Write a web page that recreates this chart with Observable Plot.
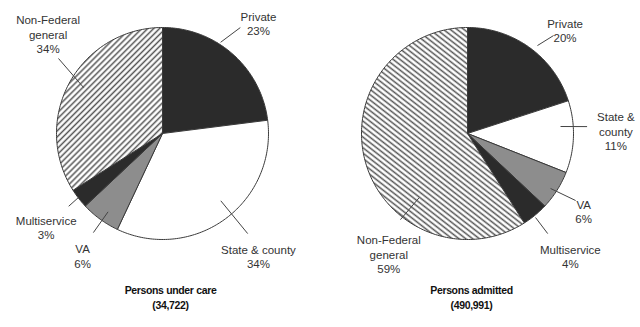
<!DOCTYPE html>
<html><head><meta charset="utf-8">
<script src="https://cdn.jsdelivr.net/npm/d3@7"></script>
<script src="https://cdn.jsdelivr.net/npm/@observablehq/plot@0.6"></script>
<style>body{margin:0;background:#fff}</style>
</head><body><div id="chart"></div>
<script>
// ---- data ----
const categories = ["Private", "State & county", "VA", "Multiservice", "Non-Federal general"];
const underCare = [23, 34, 6, 3, 34];
const admitted = [20, 11, 6, 4, 59];
const labelNamesLeft = ["Private", "State & county", "VA", "Multiservice", "Non-Federal\ngeneral"];
const labelNamesRight = ["Private", "State &\ncounty", "VA", "Multiservice", "Non-Federal\ngeneral"];
const titles = ["Persons under care", "Persons admitted"];
const totals = ["(34,722)", "(490,991)"];

// ---- layout / style ----
const W = 640, H = 327;
const sliceFills = ["#2b2b2b", "#ffffff", "#8d8d8d", "#2b2b2b"];
// leader: [angle1, r1, angle2, r2, textAngle, textR] in degrees / fractions of radius
const pies = [
  {cx: 162, cy: 133, r: 106, values: underCare, names: labelNamesLeft, hatch: "url(#hatchL)", titleDx: 8,
   leaders: [[32.5,1.02,36.3,1.24,41,1.38],[139.1,0.84,139.6,1.24,142,1.47],[214.8,0.9,214.9,1.14,213.1,1.38],[232.7,1.0,232.2,1.12,231.1,1.41],[300.2,0.86,305.8,1.21,311,1.43]]},
  {cx: 467, cy: 133, r: 106, values: admitted, names: labelNamesRight, hatch: "url(#hatchR)", titleDx: 4,
   leaders: [[38.5,1.06,41.3,1.23,43.4,1.34],[85.7,0.88,86.7,1.13,89,1.40],[123.5,0.94,121.8,1.2,123.9,1.32],[141,1.02,141.3,1.21,140,1.51],[217,0.76,217.9,1.03,213.1,1.36]]}
];

const rad = d => d * Math.PI / 180;
const polar = (p, a, rr) => [p.cx + rr * Math.sin(a), p.cy - rr * Math.cos(a)];

const slicePts = [], leaders = [], labels = [], titleRows = [];
pies.forEach((p, pi) => {
  const arcs = d3.pie().sort(null).startAngle(0).endAngle(2 * Math.PI)(p.values);
  arcs.forEach((a, i) => {
    const id = pi + "-" + i;
    const fill = i === 4 ? p.hatch : sliceFills[i];
    const pts = [[p.cx, p.cy]];
    const n = Math.max(2, Math.ceil((a.endAngle - a.startAngle) / rad(1)));
    for (let k = 0; k <= n; k++) pts.push(polar(p, a.startAngle + (a.endAngle - a.startAngle) * k / n, p.r));
    pts.push([p.cx, p.cy]);
    pts.forEach(([x, y]) => slicePts.push({id, fill, x, y}));
    const L = p.leaders[i];
    const [x1, y1] = polar(p, rad(L[0]), L[1] * p.r);
    const [x2, y2] = polar(p, rad(L[2]), L[3] * p.r);
    leaders.push({x1, y1, x2, y2});
    const [tx, ty] = polar(p, rad(L[4]), L[5] * p.r);
    labels.push({x: tx, y: ty, text: p.names[i] + "\n" + p.values[i] + "%"});
  });
  titleRows.push({x: p.cx + p.titleDx, y: 296, text: titles[pi] + "\n" + totals[pi]});
});

const chart = Plot.plot({
  width: W, height: H,
  margin: 0,
  x: {type: "identity"},
  y: {type: "identity"},
  color: {type: "identity"},
  style: {fontFamily: "'Liberation Sans', Arial, sans-serif", background: "#fff"},
  marks: [
    Plot.line(slicePts, {x: "x", y: "y", z: "id", fill: "fill", stroke: "#3a3a3a", strokeWidth: 1, curve: "linear", strokeLinejoin: "round"}),
    Plot.link(leaders, {x1: "x1", y1: "y1", x2: "x2", y2: "y2", stroke: "#444", strokeWidth: 1}),
    Plot.text(labels, {x: "x", y: "y", text: "text", fontSize: 11.5, lineHeight: 1.25, fill: "#333", lineAnchor: "middle"}),
    Plot.text(titleRows, {x: "x", y: "y", text: "text", fontSize: 10.5, fontWeight: "bold", lineHeight: 1.45, fill: "#111", lineAnchor: "middle"})
  ]
});

const svg = d3.select(chart);
const defs = svg.insert("defs", ":first-child");
[["hatchL", 45, 4.2], ["hatchR", -52, 4.2]].forEach(([id, ang, s]) => {
  const pat = defs.append("pattern").attr("id", id).attr("patternUnits", "userSpaceOnUse")
    .attr("width", s).attr("height", s).attr("patternTransform", `rotate(${ang})`);
  pat.append("rect").attr("width", s).attr("height", s).attr("fill", "#fff");
  pat.append("line").attr("x1", s / 2).attr("y1", 0).attr("x2", s / 2).attr("y2", s)
    .attr("stroke", "#555").attr("stroke-width", 1.5);
});
// slightly tighter letter spacing for the bold captions (condensed look of the original)
svg.selectAll("text").filter(function() { return getComputedStyle(this).fontWeight === "700" || this.getAttribute("font-weight") === "bold"; })
  .attr("letter-spacing", "-0.35");
svg.selectAll("g[font-weight='bold']").attr("letter-spacing", "-0.35");
document.getElementById("chart").append(chart);
</script>
</body></html>
